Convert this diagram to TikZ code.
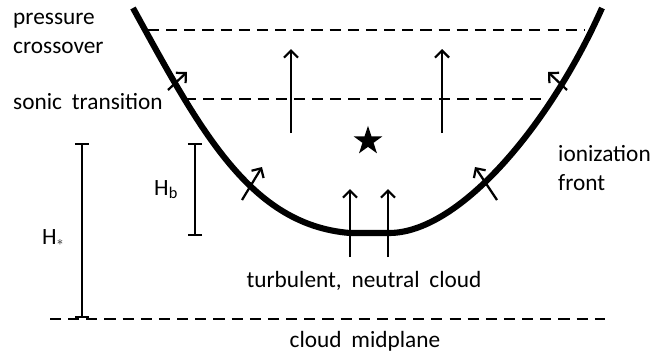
\documentclass[tikz,border=0pt]{standalone}
\usepackage{fontspec}
\setmainfont{Carlito}
\usetikzlibrary{shapes.geometric}
\usetikzlibrary{arrows.meta}
\newcommand{\labelfont}{\fontsize{19.9}{24}\selectfont
  \spaceskip=0.42em plus 0.1em\relax}
\tikzset{
  label_text/.style = {inner sep=0pt, align=left, font=\labelfont},% texte
  front_line/.style = {line width=5.2pt, line join=round},% front d'ionisation
  level_line/.style = {line width=2.5pt, dash pattern=on 9.5pt off 6pt},% niveaux
  flow_arrow/.style = {line width=1.9pt,
    -{Straight Barb[length=6pt,width=12pt]}},% ecoulement
  height_bar/.style = {line width=1.9pt,
    {Bar[width=12pt]}-{Bar[width=12pt]}},% hauteurs
  star_node/.style = {star, star points=5, star point ratio=2.6,
    fill=black, inner sep=0pt, minimum size=26pt}% etoile
}
\begin{document}
\begin{tikzpicture}[x=0.03cm, y=-0.03cm]
  \useasboundingbox (0,0) rectangle (667,355);
  % front
  \draw [front_line] (133,8) .. controls (200,130) and (250,225) .. (350,233)
    -- (390,233) .. controls (460,232) and (550,125) .. (602,8);
  % levels
  \coordinate (pc_l) at (148,30);  \coordinate (pc_r) at (585,30);
  \coordinate (st_l) at (185,99);  \coordinate (st_r) at (543,99);
  \coordinate (mp_l) at (50,319);  \coordinate (mp_r) at (605,319);
  \draw [level_line] (pc_l) -- (pc_r);
  \draw [level_line] (st_l) -- (st_r);
  \draw [level_line] (mp_l) -- (mp_r);
  % flow
  \coordinate (a1) at (168,90);  \coordinate (b1) at (187,72);
  \coordinate (a2) at (567,90);  \coordinate (b2) at (548,72);
  \coordinate (a3) at (242,200); \coordinate (b3) at (262,167);
  \coordinate (a4) at (497,200); \coordinate (b4) at (475,167);
  \coordinate (a5) at (291,133); \coordinate (b5) at (291,49);
  \coordinate (a6) at (442,133); \coordinate (b6) at (442,49);
  \coordinate (a7) at (350,257); \coordinate (b7) at (350,189);
  \coordinate (a8) at (388,257); \coordinate (b8) at (388,189);
  \foreach \i in {1,...,8}
    \draw [flow_arrow] (a\i) -- (b\i);
  % heights
  \coordinate (hs_top) at (82,143); \coordinate (hs_bot) at (82,318);
  \coordinate (hb_top) at (195,143); \coordinate (hb_bot) at (195,236);
  \draw [height_bar] (hs_top) -- (hs_bot);
  \draw [height_bar] (hb_top) -- (hb_bot);
  \node [label_text, anchor=base west] (hs) at (42,244)
    {H\raisebox{-1pt}{\fontsize{11}{11}\selectfont$\ast$}};
  \node [label_text, anchor=base west] (hb) at (154,195) {H\textsubscript{b}};
  % star
  \node [star_node] (star) at (368,141) {};
  % labels
  \node [label_text, anchor=base west] (pc) at (13,53) {pressure\\crossover};
  \node [label_text, anchor=base west] (st) at (13,109) {sonic transition};
  \node [label_text, anchor=base west] (ion) at (558,190) {ionization\\front};
  \node [label_text, anchor=base] (cloud) at (364,287) {turbulent, neutral cloud};
  \node [label_text, anchor=base] (mid) at (365,347) {cloud midplane};
\end{tikzpicture}
\end{document}
